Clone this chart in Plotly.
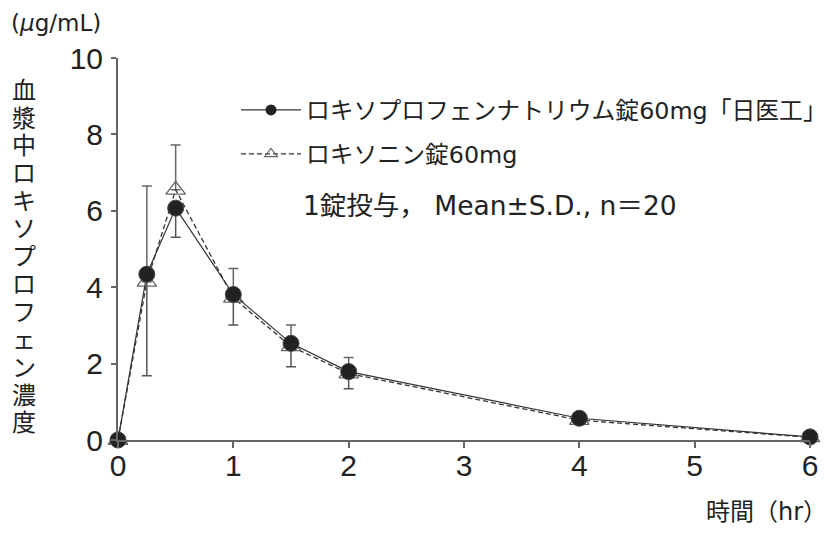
import plotly.graph_objects as go

# ---- data ----
time_hr = [0, 0.25, 0.5, 1, 1.5, 2, 4, 6]
generic_mean = [0, 4.34, 6.07, 3.81, 2.53, 1.79, 0.57, 0.08]
generic_sd = [0, 2.66, 0.76, 0.80, 0.61, 0.45, 0.08, 0.06]
loxonin_mean = [0, 4.14, 6.55, 3.72, 2.45, 1.74, 0.52, 0.07]
loxonin_sd = [0, 2.51, 1.17, 0.77, 0.56, 0.42, 0.08, 0.06]
x_ticks = [0, 1, 2, 3, 4, 5, 6]
y_ticks = [0, 2, 4, 6, 8, 10]

name_generic = "ロキソプロフェンナトリウム錠60mg「日医工」"
name_loxonin = "ロキソニン錠60mg"
ylabel = "血漿中ロキソプロフェン濃度"

FONT = "Liberation Sans, Arial, Noto Sans CJK JP, sans-serif"
WIDE = "DejaVu Sans, Noto Sans CJK JP, sans-serif"
# page body has an 8px margin: work in figure coordinates = screen - 8
OFF = 8
W, H = 838 - 2 * OFF, 534 - 2 * OFF
PL, PR, PT, PB = 118 - OFF, 810 - OFF, 58 - OFF, 440 - OFF  # plot area box
L, R, T, B = PL, W - PR, PT, H - PB
pw, ph = PR - PL, PB - PT


def px(xs):
    return (xs - OFF - PL) / pw


def py(ys):
    return 1 - (ys - OFF - PT) / ph


SOLID = dict(color="#333", width=1.2)
DASHED = dict(color="#333", width=1.3, dash="5px,3px")

fig = go.Figure()
zeros = [0] * len(time_hr)
fig.add_trace(go.Scatter(
    x=time_hr, y=loxonin_mean, name=name_loxonin, mode="lines+markers",
    line=DASHED,
    marker=dict(symbol="triangle-up-open", size=17, color="#666", line=dict(width=1.3)),
    error_y=dict(type="data", symmetric=False, array=loxonin_sd, arrayminus=zeros,
                 color="#666", thickness=1.5, width=5),
    showlegend=False, cliponaxis=False,
))
fig.add_trace(go.Scatter(
    x=time_hr, y=generic_mean, name=name_generic, mode="lines+markers",
    line=SOLID,
    marker=dict(symbol="circle", size=16, color="#222", line=dict(width=1, color="#444")),
    error_y=dict(type="data", symmetric=False, array=zeros, arrayminus=generic_sd,
                 color="#555", thickness=1.5, width=5),
    showlegend=False, cliponaxis=False,
))
# legend entries (smaller symbols, like the reference key)
fig.add_trace(go.Scatter(
    x=[None], y=[None], name=name_generic, mode="lines+markers", line=SOLID,
    marker=dict(symbol="circle", size=11, color="#222"),
    legendgroup="a", legendrank=1,
))
fig.add_trace(go.Scatter(
    x=[None], y=[None], name=name_loxonin, mode="lines+markers", line=DASHED,
    marker=dict(symbol="triangle-up-open", size=11, color="#666", line=dict(width=1.2)),
    legendgroup="b", legendrank=2,
))

annotations = []
# vertical y-axis title, one character per line (line spacing 1.3 x 21.3px)
vtext = "<br>".join(f'<span style="font-size:24px">{c}</span>' for c in ylabel)
annotations.append(dict(text=vtext, xref="paper", yref="paper",
                        x=px(24), y=py(254), showarrow=False,
                        xanchor="center", yanchor="middle",
                        font=dict(size=21.3, color="#222", family="Noto Sans CJK JP")))
annotations.append(dict(text="(<i>μ</i>g/mL)", xref="paper", yref="paper",
                        x=px(OFF + 1), y=py(OFF), showarrow=False,
                        xanchor="left", yanchor="top",
                        font=dict(size=23, color="#222", family=WIDE)))
annotations.append(dict(text="時間（hr）", xref="paper", yref="paper",
                        x=px(829), y=py(512), showarrow=False,
                        xanchor="right", yanchor="middle",
                        font=dict(size=24, color="#222", family=WIDE)))
annotations.append(dict(text="1錠投与， Mean±S.D., n＝20", xref="paper", yref="paper",
                        x=px(301), y=py(205), showarrow=False,
                        xanchor="left", yanchor="middle",
                        font=dict(size=26.5, color="#222", family=WIDE)))

fig.update_layout(
    width=W, height=H, margin=dict(l=L, r=R, t=T, b=B, autoexpand=False),
    paper_bgcolor="white", plot_bgcolor="white",
    font=dict(family=FONT, size=24, color="#222"),
    showlegend=True,
    legend=dict(x=px(236), y=py(88), xanchor="left", yanchor="top",
                bgcolor="rgba(0,0,0,0)", font=dict(size=23.8, family=WIDE, color="#222"),
                tracegroupgap=10, itemsizing="trace", itemwidth=60),
    annotations=annotations,
    xaxis=dict(range=[0, 6], tickvals=x_ticks, showline=True, linecolor="#666", linewidth=2,
               ticks="outside", ticklen=6, tickcolor="#666", tickwidth=1.5, automargin=False,
               showgrid=False, zeroline=False, tickfont=dict(size=30), ticklabelstandoff=-8),
    yaxis=dict(range=[0, 10], tickvals=y_ticks, showline=True, linecolor="#666", linewidth=2,
               ticks="outside", ticklen=5, tickcolor="#666", tickwidth=1.5, automargin=False,
               showgrid=False, zeroline=False, tickfont=dict(size=30), ticklabelstandoff=2),
)

fig.write_html("out.html")
